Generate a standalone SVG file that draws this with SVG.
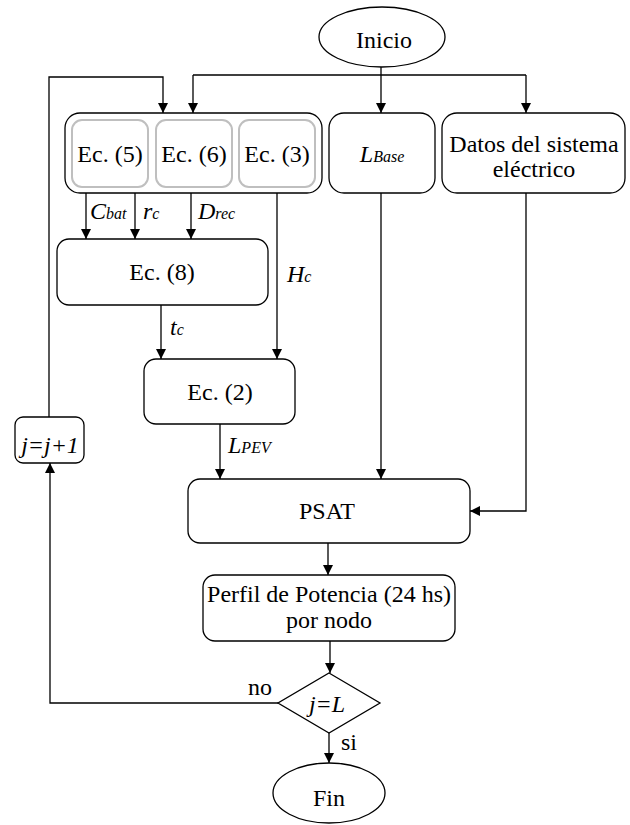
<svg xmlns="http://www.w3.org/2000/svg" width="630" height="825" viewBox="0 0 630 825" font-family="'Liberation Serif', 'Times New Roman', 'DejaVu Serif', serif">
<defs>
<marker id="arr" viewBox="0 0 10 10" refX="10" refY="5" markerWidth="10" markerHeight="10" markerUnits="userSpaceOnUse" orient="auto">
<path d="M0,0 L10,5 L0,10 Z" fill="#000"/>
</marker>
<style>
.b{fill:#fff;stroke:#000;stroke-width:1.3}
.g{fill:#fff;stroke:#bfbfbf;stroke-width:2}
.c{fill:none;stroke:#000;stroke-width:1.3}
.a{marker-end:url(#arr)}
text{font-family:'Liberation Serif','Times New Roman','DejaVu Serif',serif;font-size:24px;fill:#000}
.m{text-anchor:middle}
.i{font-style:italic}
.s{font-size:16px;font-style:italic}
</style>
</defs>
<rect width="630" height="825" fill="#fff"/>
<g id="connectors">
<path class="c" d="M381,67 V75 M193,75 H526"/>
<path class="c a" d="M381,75 V113"/>
<path class="c a" d="M193,75 V113"/>
<path class="c a" d="M526,75 V113"/>
<path class="c a" d="M49,417 V77 H163 V113"/>
<path class="c a" d="M86,187 V239"/>
<path class="c a" d="M135,187 V239"/>
<path class="c a" d="M191,187 V239"/>
<path class="c a" d="M277,187 V359"/>
<path class="c a" d="M161,305 V359"/>
<path class="c a" d="M220,424 V479"/>
<path class="c a" d="M381,193 V479"/>
<path class="c a" d="M526,193 V511 H470"/>
<path class="c a" d="M328,543 V575"/>
<path class="c a" d="M330,641 V673"/>
<path class="c a" d="M278,703 H50 V463"/>
<path class="c a" d="M329,733 V763"/>
<text x="90" y="219" class="i">C<tspan class="s">bat</tspan></text>
<text x="143" y="219" class="i">r<tspan class="s">c</tspan></text>
<text x="198" y="219" class="i">D<tspan class="s">rec</tspan></text>
<text x="287" y="282" class="i">H<tspan class="s">c</tspan></text>
<text x="170" y="335" class="i">t<tspan class="s">c</tspan></text>
<text x="228" y="453" class="i">L<tspan class="s">PEV</tspan></text>
<text x="272" y="695" text-anchor="end">no</text>
<text x="341" y="750">si</text>
</g>
<g id="inicio">
<ellipse class="b" cx="382" cy="37" rx="63" ry="30"/>
<text x="384" y="48" class="m">Inicio</text>
</g>
<g id="ec-group">
<rect class="b" x="65" y="113" width="257" height="80" rx="15"/>
</g>
<g id="ec5">
<rect class="g" x="72" y="120" width="76" height="67" rx="10"/>
<text x="110" y="162" class="m">Ec. (5)</text>
</g>
<g id="ec6">
<rect class="g" x="156" y="120" width="76" height="67" rx="10"/>
<text x="194" y="162" class="m">Ec. (6)</text>
</g>
<g id="ec3">
<rect class="g" x="239" y="120" width="76" height="67" rx="10"/>
<text x="277" y="162" class="m">Ec. (3)</text>
</g>
<g id="lbase">
<rect class="b" x="329" y="113" width="106" height="80" rx="15"/>
<text x="382" y="162" class="m i">L<tspan class="s">Base</tspan></text>
</g>
<g id="datos">
<rect class="b" x="442" y="113" width="183" height="80" rx="15"/>
<text x="534" y="152" class="m">Datos del sistema</text>
<text x="534" y="177" class="m">eléctrico</text>
</g>
<g id="ec8">
<rect class="b" x="57" y="239" width="211" height="66" rx="12"/>
<text x="162" y="280" class="m">Ec. (8)</text>
</g>
<g id="ec2">
<rect class="b" x="144" y="359" width="151" height="65" rx="12"/>
<text x="220" y="400" class="m">Ec. (2)</text>
</g>
<g id="jinc">
<rect class="b" x="15" y="417" width="69" height="46" rx="8"/>
<text x="50" y="453" class="m i">j=j+1</text>
</g>
<g id="psat">
<rect class="b" x="188" y="479" width="282" height="64" rx="12"/>
<text x="327" y="519" class="m">PSAT</text>
</g>
<g id="perfil">
<rect class="b" x="203" y="575" width="252" height="66" rx="12"/>
<text x="329" y="602" class="m">Perfil de Potencia (24 hs)</text>
<text x="329" y="628" class="m">por nodo</text>
</g>
<g id="decision">
<polygon class="b" points="329,673 380,703 329,733 278,703"/>
<text x="327" y="712" class="m i">j=L</text>
</g>
<g id="fin">
<ellipse class="b" cx="329" cy="793" rx="56" ry="30"/>
<text x="329" y="806" class="m">Fin</text>
</g>
</svg>
